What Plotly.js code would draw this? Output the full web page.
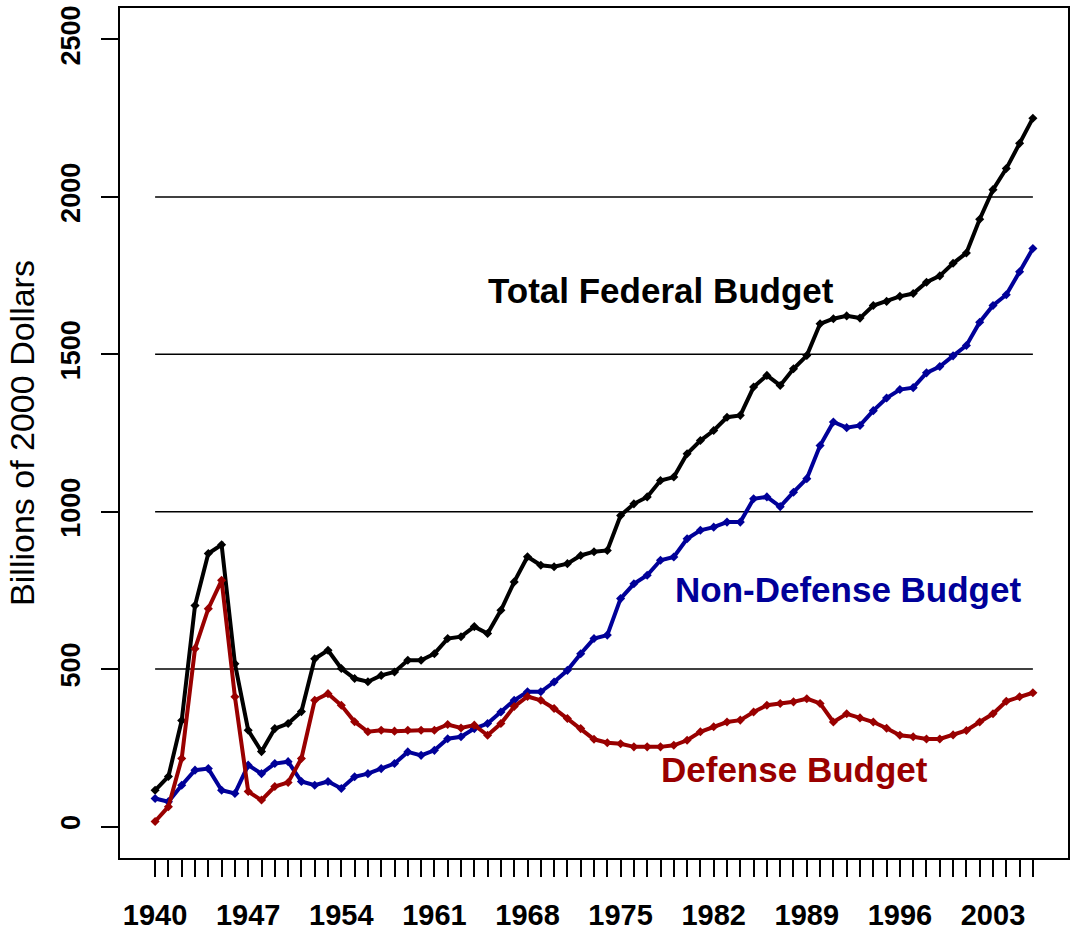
<!DOCTYPE html>
<html>
<head>
<meta charset="utf-8">
<script src="https://cdn.plot.ly/plotly-3.0.1.min.js"></script>
<style>
html, body { margin: 0; padding: 0; background: #ffffff; }
#chart { width: 1070px; height: 941px; }
</style>
</head>
<body>
<div id="chart"></div>
<script>
// Fiscal years
const years = [];
for (let y = 1940; y <= 2006; y++) years.push(y);

// Billions of 2000 dollars
const totalBudget = [
  115, 159, 337, 702, 867, 895, 517, 306, 238, 311,
  327, 365, 533, 560, 502, 470, 460, 480, 491, 528,
  528, 549, 597, 603, 635, 613, 687, 777, 857, 830,
  825, 835, 861, 873, 877, 988, 1025, 1047, 1099, 1110,
  1184, 1226, 1258, 1300, 1306, 1396, 1433, 1401, 1454, 1496,
  1597, 1613, 1622, 1615, 1655, 1668, 1684, 1693, 1729, 1749,
  1789, 1822, 1929, 2023, 2090, 2170, 2250
];
const nonDefenseBudget = [
  89, 79, 131, 179, 184, 115, 105, 195, 168, 200,
  206, 143, 131, 143, 121, 158, 168, 184, 200, 237,
  226, 242, 279, 285, 311, 327, 364, 401, 428, 428,
  459, 496, 549, 597, 608, 724, 771, 798, 846, 856,
  914, 941, 951, 967, 967, 1041, 1047, 1016, 1062, 1105,
  1210, 1285, 1267, 1274, 1321, 1361, 1388, 1394, 1441, 1461,
  1495, 1528, 1602, 1655, 1689, 1762, 1836
];
const defenseBudget = [
  16, 63, 216, 565, 692, 782, 412, 111, 84, 127,
  140, 216, 401, 422, 385, 333, 301, 306, 303, 306,
  306, 306, 324, 313, 322, 290, 327, 381, 413, 401,
  375, 343, 311, 277, 266, 263, 253, 253, 253, 258,
  274, 301, 317, 332, 338, 364, 385, 391, 396, 406,
  391, 332, 358, 345, 332, 312, 290, 285, 278, 278,
  291, 305, 332, 358, 398, 412, 425
];

const seriesNames = ["Total Federal Budget", "Non-Defense Budget", "Defense Budget"];
const seriesColors = ["#000000", "#000099", "#990000"];

const yTickVals = [0, 500, 1000, 1500, 2000, 2500];
const gridVals = [500, 1000, 1500, 2000];
const xLabelYears = [1940, 1947, 1954, 1961, 1968, 1975, 1982, 1989, 1996, 2003];
const xTickText = years.map(y => xLabelYears.includes(y) ? String(y) : "");

// label anchors (year, value) for the in-plot series names
const labelYears = [1978.0, 1992.1, 1988.1];
const labelValues = [1702, 752, 181];

const seriesData = [totalBudget, nonDefenseBudget, defenseBudget];

const traces = seriesData.map((vals, i) => ({
  x: years,
  y: vals,
  type: "scatter",
  mode: "lines+markers",
  name: seriesNames[i],
  line: { color: seriesColors[i], width: 4 },
  marker: { color: seriesColors[i], size: 7, symbol: "diamond" },
  hoverinfo: "x+y+name"
}));

const shapes = gridVals.map(v => ({
  type: "line", xref: "x", yref: "y",
  x0: years[0], x1: years[years.length - 1], y0: v, y1: v,
  line: { color: "#000000", width: 1.5 },
  layer: "below"
}));

const annotations = seriesNames.map((t, i) => ({
  x: labelYears[i], y: labelValues[i], xref: "x", yref: "y",
  text: t, showarrow: false,
  xanchor: "center", yanchor: "middle",
  font: { family: "Liberation Sans, Arial, sans-serif", size: 35, weight: "bold", color: seriesColors[i] }
}));

const layout = {
  width: 1070,
  height: 941,
  margin: { l: 120, r: 2, t: 8, b: 83 },
  paper_bgcolor: "#ffffff",
  plot_bgcolor: "#ffffff",
  showlegend: false,
  font: { family: "Liberation Sans, Arial, sans-serif", color: "#000000" },
  xaxis: {
    range: [1937.36, 2008.64],
    tickmode: "array",
    tickvals: years,
    ticktext: xTickText,
    ticks: "outside",
    ticklen: 17,
    tickwidth: 1.5,
    tickcolor: "#000000",
    tickfont: { size: 29, weight: "bold", color: "#000000" },
    ticklabelstandoff: 13,
    showgrid: false,
    zeroline: false,
    showline: true,
    mirror: true,
    linecolor: "#000000",
    linewidth: 1.5
  },
  yaxis: {
    range: [-100, 2600],
    tickmode: "array",
    tickvals: yTickVals,
    ticktext: yTickVals.map(String),
    tickangle: -90,
    ticks: "outside",
    ticklen: 17,
    tickwidth: 1.5,
    tickcolor: "#000000",
    tickfont: { size: 27, weight: "bold", color: "#000000" },
    ticklabelstandoff: 10,
    showgrid: false,
    zeroline: false,
    showline: true,
    mirror: true,
    linecolor: "#000000",
    linewidth: 1.5,
    title: {
      text: "Billions of 2000 Dollars",
      font: { size: 34, color: "#000000" },
      standoff: 12
    }
  },
  shapes: shapes,
  annotations: annotations
};

Plotly.newPlot("chart", traces, layout, { displayModeBar: false, staticPlot: false });
</script>
</body>
</html>
